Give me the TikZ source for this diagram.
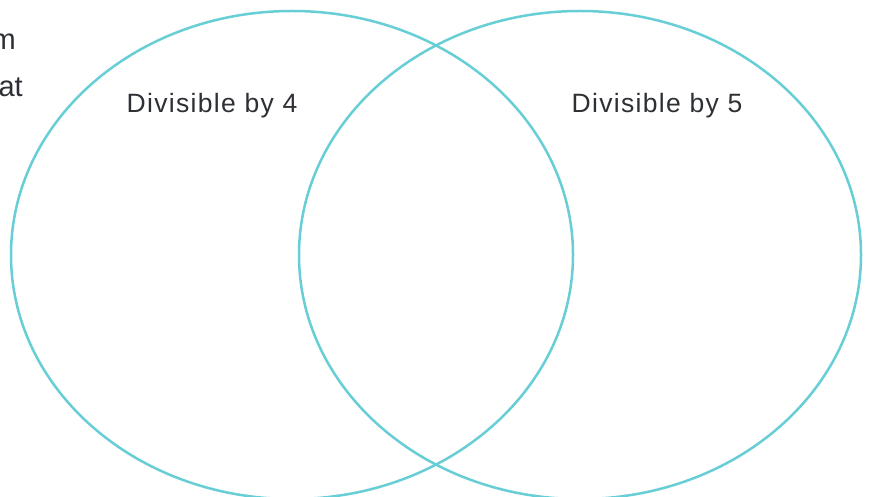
\documentclass[tikz,border=0pt]{standalone}
\usepackage{fontspec}
\setmainfont{Liberation Sans}
\newfontfamily\labelfont[LetterSpace=5]{Liberation Sans}
\definecolor{ring}{RGB}{104,206,214}
\definecolor{ink}{RGB}{45,48,52}
\tikzset{
  ringline/.style={draw=ring, line width=2.5pt},
  label/.style={text=ink, font=\labelfont\fontsize{26.5}{31}\selectfont, inner sep=0pt},
  cutlabel/.style={text=ink, font=\fontsize{29}{34}\selectfont, inner sep=0pt}
}
\begin{document}
\begin{tikzpicture}[x=1pt,y=-1pt]
\useasboundingbox (0,0) rectangle (870,497);
\clip (0,0) rectangle (870,497);
\fill[white] (0,0) rectangle (870,497);
\draw[ringline] (292,255) ellipse [x radius=281, y radius=244];
\draw[ringline] (580,255) ellipse [x radius=281, y radius=244];
\node[label, anchor=base] (l4) at (212,113) {Divisible by 4};
\node[label, anchor=base] (l5) at (657,113) {Divisible by 5};
\node[cutlabel, anchor=base east] (m) at (16,50) {m};
\node[cutlabel, anchor=base east] (at) at (23,97) {at};
\end{tikzpicture}
\end{document}
